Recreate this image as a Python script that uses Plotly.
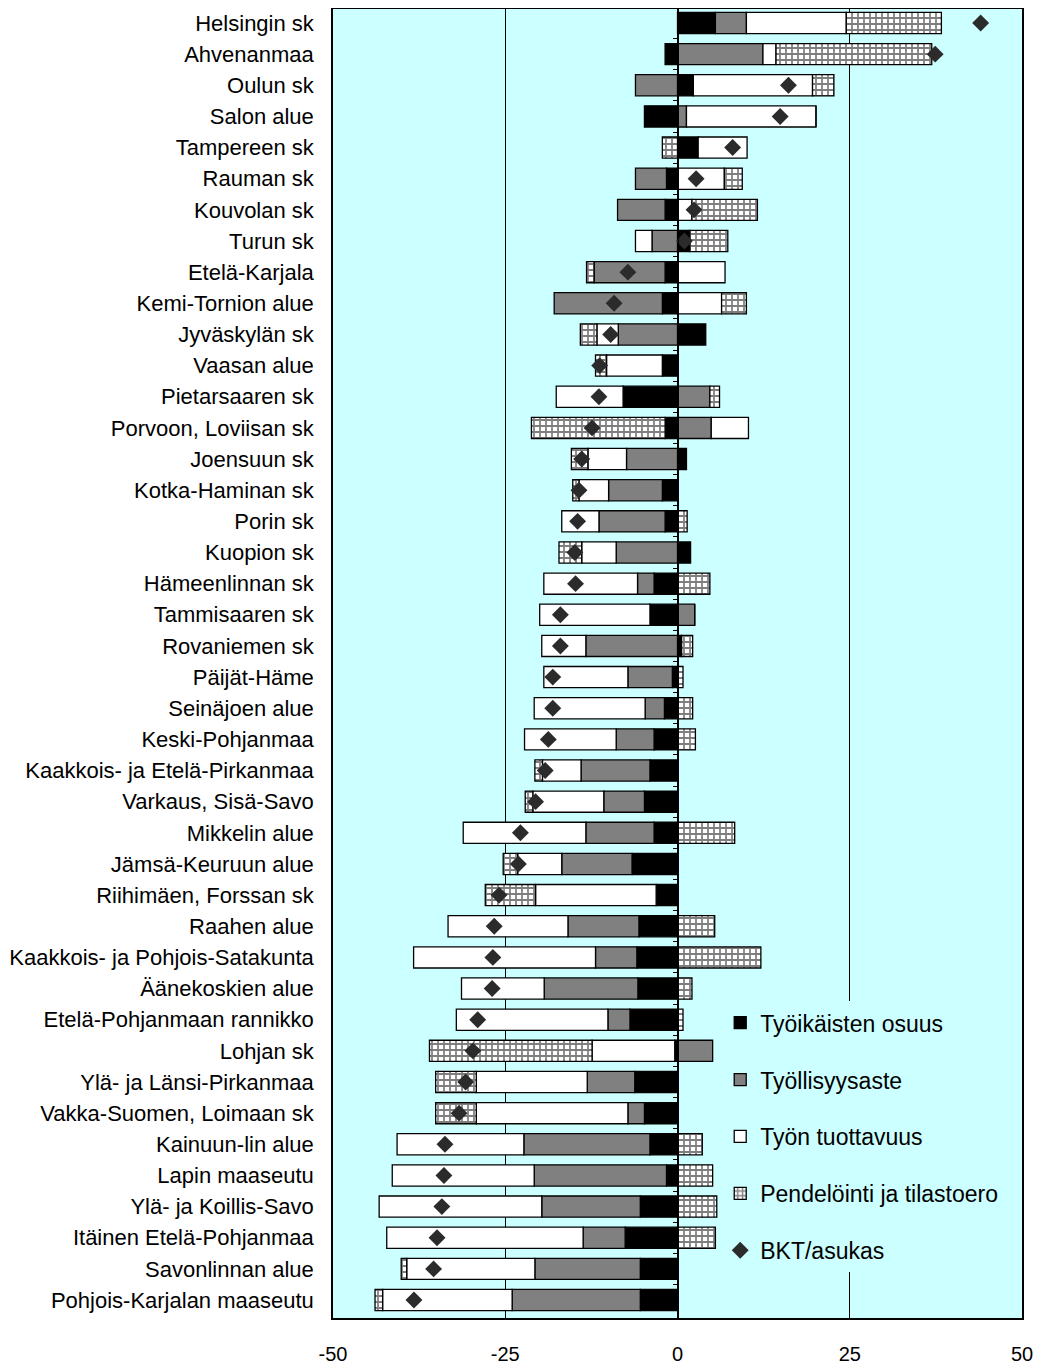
import plotly.graph_objects as go

regions = ["Helsingin sk", "Ahvenanmaa", "Oulun sk", "Salon alue", "Tampereen sk", "Rauman sk",
           "Kouvolan sk", "Turun sk", "Etelä-Karjala", "Kemi-Tornion alue", "Jyväskylän sk",
           "Vaasan alue", "Pietarsaaren sk", "Porvoon, Loviisan sk", "Joensuun sk",
           "Kotka-Haminan sk", "Porin sk", "Kuopion sk", "Hämeenlinnan sk", "Tammisaaren sk",
           "Rovaniemen sk", "Päijät-Häme", "Seinäjoen alue", "Keski-Pohjanmaa",
           "Kaakkois- ja Etelä-Pirkanmaa", "Varkaus, Sisä-Savo", "Mikkelin alue",
           "Jämsä-Keuruun alue", "Riihimäen, Forssan sk", "Raahen alue",
           "Kaakkois- ja Pohjois-Satakunta", "Äänekoskien alue", "Etelä-Pohjanmaan rannikko",
           "Lohjan sk", "Ylä- ja Länsi-Pirkanmaa", "Vakka-Suomen, Loimaan sk",
           "Kainuun-lin alue", "Lapin maaseutu", "Ylä- ja Koillis-Savo",
           "Itäinen Etelä-Pohjanmaa", "Savonlinnan alue", "Pohjois-Karjalan maaseutu"]

tyoikaisten = [5.5, -1.8, 2.3, -4.8, 3.0, -1.6, -1.8, 1.8, -1.8, -2.2, 4.1, -2.2, -7.9, -1.8,
               1.3, -2.2, -1.8, 1.9, -3.4, -4.0, 0.6, -0.75, -1.9, -3.4, -4.0, -4.8, -3.4,
               -6.6, -3.1, -5.6, -5.9, -5.75, -6.9, -0.4, -6.2, -4.8, -4.0, -1.6, -5.4,
               -7.6, -5.4, -5.4]
tyollisyys = [4.5, 12.4, -6.1, 1.3, 0, -4.5, -6.9, -3.7, -10.3, -15.7, -8.6, 0, 4.7, 4.9,
              -7.4, -7.8, -9.6, -8.9, -2.4, 2.5, -13.3, -6.45, -2.8, -5.5, -10.0, -5.9, -9.9,
              -10.2, 0, -10.3, -6.0, -13.6, -3.2, 5.1, -6.9, -2.4, -18.3, -19.2, -14.3,
              -6.1, -15.3, -18.6]
tuottavuus = [14.5, 1.9, 17.3, 18.8, 7.1, 6.8, 2.1, -2.4, 6.9, 6.4, -3.1, -8.1, -9.7, 5.4,
              -5.6, -4.3, -5.4, -5.0, -13.6, -16.0, -6.4, -12.2, -16.1, -13.3, -5.6, -10.3,
              -17.8, -6.4, -17.5, -17.4, -26.4, -12.0, -22.0, -12.0, -16.1, -22.0, -18.4,
              -20.6, -23.6, -28.5, -18.6, -18.8]
pendelointi = [13.8, 22.6, 3.1, 0, -2.2, 2.6, 9.5, 5.5, -1.1, 3.6, -2.4, -1.6, 1.4, -19.4,
               -2.4, -0.9, 1.4, -3.3, 4.7, 0, 1.6, 0.8, 2.2, 2.6, -1.1, -1.1, 8.3, -2.1,
               -7.3, 5.4, 12.1, 2.1, 0.8, -23.6, -5.9, -5.9, 3.6, 5.1, 5.7, 5.5, -0.8, -1.1]
bkt = [44.0, 37.4, 16.1, 14.9, 8.0, 2.7, 2.4, 1.0, -7.2, -9.2, -9.7, -11.3, -11.4, -12.4,
       -13.9, -14.3, -14.5, -14.9, -14.8, -17.0, -17.0, -18.1, -18.1, -18.75, -19.2, -20.6,
       -22.8, -23.1, -25.9, -26.6, -26.8, -26.9, -29.0, -29.7, -30.75, -31.7, -33.75,
       -33.9, -34.2, -34.9, -35.4, -38.25]

x_ticks = [-50, -25, 0, 25, 50]
x_tick_labels = ["-50", "-25", "0", "25", "50"]

FONT = "Arial, 'Liberation Sans', sans-serif"
BG = "#CCFFFF"
line = dict(color="black", width=1.3)
bw = 0.68

fig = go.Figure()
fig.add_trace(go.Bar(y=regions, x=tyoikaisten, orientation="h", name="Työikäisten osuus",
                     width=bw, marker=dict(color="black", line=line), legendgroup="a"))
fig.add_trace(go.Bar(y=regions, x=tyollisyys, orientation="h", name="Työllisyysaste",
                     width=bw, marker=dict(color="#808080", line=line), legendgroup="b"))
fig.add_trace(go.Bar(y=regions, x=tuottavuus, orientation="h", name="Työn tuottavuus",
                     width=bw, marker=dict(color="white", line=line), legendgroup="c"))
fig.add_trace(go.Bar(y=regions, x=pendelointi, orientation="h", name="Pendelöinti ja tilastoero",
                     width=bw, legendgroup="d",
                     marker=dict(color="white", line=line,
                                 pattern=dict(shape="+", fgcolor="black", bgcolor="white",
                                              size=6, solidity=0.5))))
fig.add_trace(go.Scatter(y=regions, x=bkt, mode="markers", name="BKT/asukas",
                         yaxis="y2", legendgroup="e",
                         marker=dict(symbol="diamond", size=13, color="#2b2b2b")))

yr = [len(regions) - 1 + 0.577, -0.449]
fig.update_layout(
    width=1033, height=1359,
    margin=dict(l=325, r=19, t=1, b=49),
    barmode="relative",
    paper_bgcolor="white",
    plot_bgcolor=BG,
    font=dict(family=FONT, color="black", size=20),
    xaxis=dict(range=[-50, 50], tickvals=x_ticks, ticktext=x_tick_labels, showgrid=True,
               gridcolor="black", gridwidth=1.3, zeroline=False, showline=True, mirror=True,
               linecolor="black", linewidth=1.5, ticks="", ticklabelstandoff=17,
               tickfont=dict(size=20), automargin=False),
    yaxis=dict(type="category", categoryorder="array", categoryarray=regions, range=yr,
               autorange=False, showgrid=False, showline=True, mirror=True, linecolor="black",
               linewidth=1.5, ticks="", ticklabelstandoff=13, tickfont=dict(size=22),
               automargin=False),
    yaxis2=dict(type="category", categoryorder="array", categoryarray=regions, range=yr,
                autorange=False, overlaying="y", anchor="free", position=0.5, side="left",
                showline=True, linecolor="black", linewidth=1.3, ticks="outside", ticklen=4,
                tickcolor="black", tickson="boundaries", showticklabels=False, showgrid=False,
                automargin=False),
    legend=dict(x=0.562, y=0.242, xanchor="left", yanchor="top", bgcolor=BG,
                traceorder="grouped", tracegroupgap=24, font=dict(size=23),
                itemwidth=30),
    showlegend=True,
)

fig.write_html("out.html")
